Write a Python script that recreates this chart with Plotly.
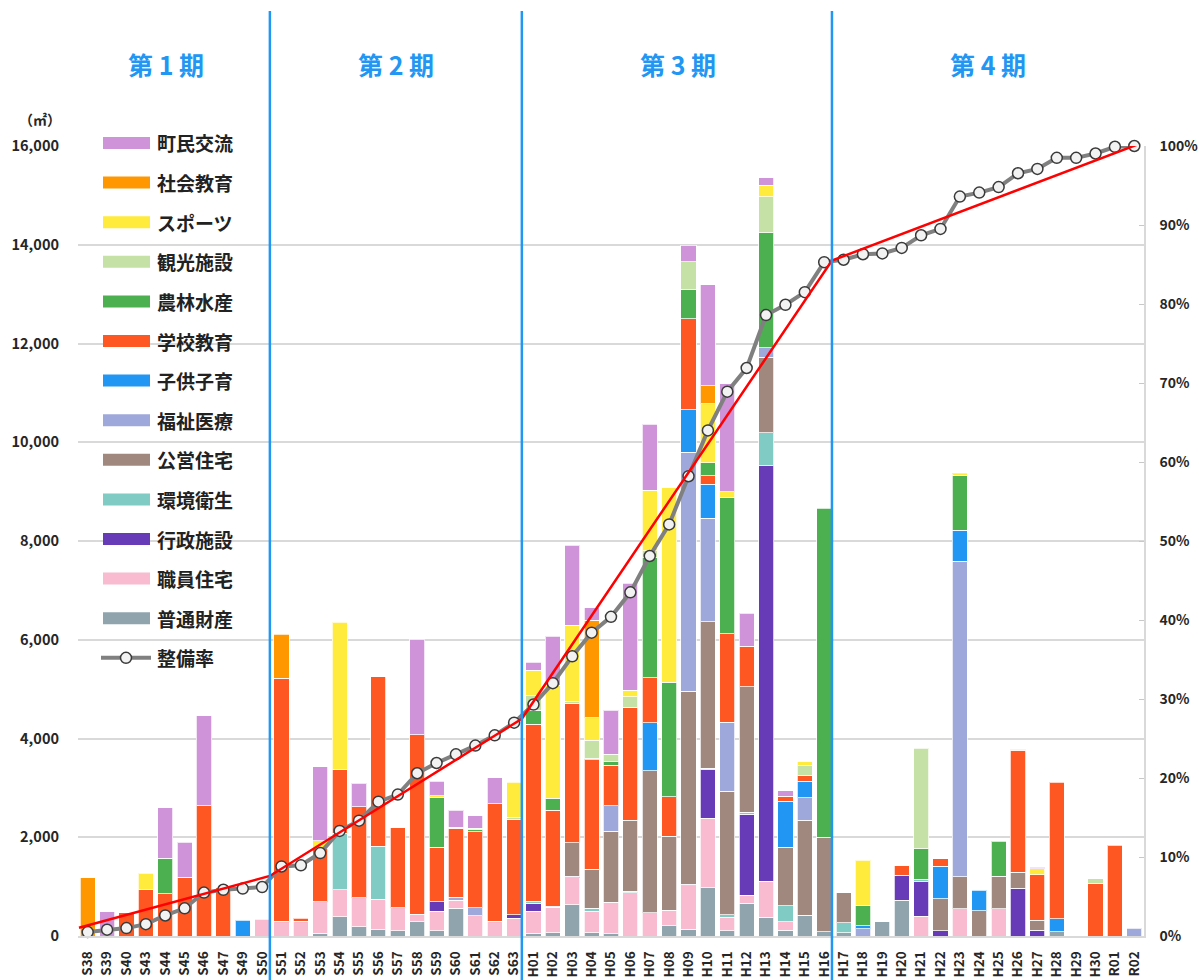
import plotly.graph_objects as go

# 年度（横軸）
years = [
    "S38", "S39", "S40", "S43", "S44", "S45", "S46", "S47", "S49", "S50",
    "S51", "S52", "S53", "S54", "S55", "S56", "S57", "S58", "S59", "S60", "S61", "S62", "S63",
    "H01", "H02", "H03", "H04", "H05", "H06", "H07", "H08", "H09", "H10", "H11", "H12", "H13", "H14", "H15", "H16",
    "H17", "H18", "H19", "H20", "H21", "H22", "H23", "H24", "H25", "H26", "H27", "H28", "H29", "H30", "R01", "R02",
]

# 用途別整備面積（㎡）
futsu_zaisan = [
    0, 0, 0, 0, 0, 0, 0, 0, 0, 0,
    0, 0, 60, 395, 190, 130, 110, 290, 110, 565, 0, 0, 0,
    58, 70, 634, 64, 44, 0, 0, 210, 135, 976, 105, 668, 375, 120, 420, 83,
    68, 0, 285, 721, 0, 0, 0, 0, 0, 0, 0, 83, 0, 0, 0, 0,
]
shokuin_jutaku = [
    0, 0, 0, 0, 0, 0, 0, 0, 0, 340,
    300, 300, 630, 545, 580, 610, 460, 150, 395, 155, 415, 295, 360,
    447, 515, 542, 434, 637, 871, 473, 316, 886, 1412, 278, 158, 729, 165, 0, 0,
    0, 0, 0, 0, 405, 0, 556, 0, 556, 0, 0, 0, 0, 0, 0, 0,
]
gyosei_shisetsu = [
    0, 0, 0, 0, 0, 0, 0, 0, 0, 0,
    0, 0, 0, 0, 0, 0, 0, 0, 185, 0, 0, 0, 70,
    162, 20, 34, 0, 0, 0, 0, 0, 23, 983, 0, 1644, 8416, 0, 0, 0,
    0, 0, 0, 510, 691, 105, 0, 0, 0, 969, 113, 0, 0, 0, 0, 0,
]
kankyo_eisei = [
    0, 0, 0, 0, 0, 0, 0, 0, 0, 0,
    0, 0, 0, 1140, 0, 1080, 0, 0, 0, 0, 0, 0, 0,
    33, 0, 0, 68, 0, 34, 0, 0, 0, 30, 52, 38, 676, 323, 0, 0,
    202, 0, 0, 0, 53, 0, 0, 0, 0, 0, 0, 0, 0, 0, 0, 0,
]
koei_jutaku = [
    0, 0, 0, 0, 0, 0, 0, 0, 0, 0,
    0, 0, 0, 0, 0, 0, 0, 0, 0, 0, 0, 0, 0,
    0, 0, 677, 787, 1444, 1437, 2876, 1494, 3911, 2966, 2501, 2537, 1527, 1186, 1922, 1914,
    601, 0, 0, 0, 0, 653, 645, 511, 653, 322, 202, 0, 0, 0, 0, 0,
]
fukushi_iryo = [
    0, 0, 0, 0, 0, 0, 0, 0, 0, 0,
    0, 0, 0, 0, 0, 0, 0, 0, 0, 65, 155, 0, 0,
    0, 0, 0, 0, 515, 0, 0, 0, 4843, 2094, 1389, 0, 189, 0, 458, 0,
    0, 143, 0, 0, 0, 0, 6389, 0, 0, 0, 0, 0, 0, 0, 0, 158,
]
kodomo_kosodate = [
    0, 0, 0, 0, 0, 0, 0, 0, 320, 0,
    0, 0, 0, 0, 0, 0, 0, 0, 0, 0, 0, 0, 0,
    0, 0, 0, 0, 0, 0, 968, 0, 863, 684, 0, 0, 0, 939, 338, 0,
    0, 60, 0, 0, 0, 654, 624, 412, 0, 0, 0, 270, 0, 0, 0, 0,
]
gakko_kyoiku = [
    0, 0, 470, 935, 860, 1190, 2640, 980, 0, 0,
    4920, 55, 1080, 1300, 1850, 3430, 1625, 3640, 1105, 1395, 1540, 2380, 1920,
    3586, 1940, 2819, 2216, 820, 2290, 909, 796, 1838, 172, 1794, 826, 0, 98, 105, 0,
    0, 0, 0, 196, 0, 157, 0, 0, 0, 2470, 924, 2763, 0, 1059, 1839, 0,
]
norin_suisan = [
    0, 0, 0, 0, 710, 0, 0, 0, 0, 0,
    0, 0, 0, 0, 0, 0, 0, 0, 1010, 0, 45, 0, 0,
    285, 245, 0, 34, 68, 0, 2447, 2320, 595, 263, 2771, 0, 2331, 0, 0, 6667,
    0, 420, 0, 0, 623, 0, 1118, 0, 706, 0, 0, 0, 0, 0, 0, 0,
]
kanko_shisetsu = [
    0, 0, 0, 0, 0, 0, 0, 0, 0, 0,
    0, 0, 0, 0, 0, 0, 0, 0, 0, 0, 0, 0, 60,
    300, 0, 48, 358, 149, 210, 128, 0, 561, 0, 0, 0, 730, 0, 203, 0,
    0, 0, 0, 0, 2027, 0, 0, 0, 0, 23, 0, 0, 0, 105, 0, 0,
]
sports = [
    0, 0, 0, 340, 0, 0, 0, 0, 0, 0,
    0, 0, 160, 2975, 0, 0, 0, 0, 35, 20, 25, 0, 700,
    508, 2285, 1539, 461, 0, 136, 1231, 3941, 0, 1197, 112, 0, 230, 0, 83, 0,
    0, 909, 0, 0, 0, 0, 30, 0, 0, 0, 120, 0, 0, 0, 0, 0,
]
shakai_kyoiku = [
    1180, 0, 0, 0, 0, 0, 0, 0, 0, 0,
    895, 0, 0, 0, 0, 0, 0, 0, 0, 0, 0, 0, 0,
    0, 0, 0, 1972, 0, 0, 0, 0, 0, 372, 0, 0, 0, 0, 0, 0,
    0, 0, 0, 0, 0, 0, 0, 0, 0, 0, 0, 0, 0, 0, 0, 0,
]
chomin_koryu = [
    0, 490, 0, 0, 1030, 710, 1820, 0, 0, 0,
    0, 0, 1500, 0, 475, 0, 0, 1930, 290, 345, 255, 530, 0,
    170, 1000, 1626, 258, 893, 2168, 1337, 0, 338, 2040, 2180, 661, 155, 112, 0, 0,
    0, 0, 0, 0, 0, 0, 23, 0, 0, 0, 30, 0, 0, 0, 0, 0,
]

# 整備率（%）
seibi_ritsu = [
    0.5, 0.8, 1.0, 1.5, 2.6, 3.5, 5.5, 5.85, 6.0, 6.2,
    8.8, 8.95, 10.5, 13.3, 14.6, 17.0, 17.9, 20.6, 21.9, 23.0, 24.1, 25.4, 27.0,
    29.3, 32.0, 35.4, 38.4, 40.4, 43.5, 48.1, 52.1, 58.2, 64.0, 68.9, 71.9, 78.6, 79.9, 81.5, 85.3,
    85.6, 86.3, 86.4, 87.1, 88.7, 89.5, 93.6, 94.1, 94.8, 96.55, 97.1, 98.5, 98.5, 99.05, 99.9, 100.0,
]

# 期ごとの整備率の推移（期の境界での値, %）
trend_x = [-0.45, 9.4, 22.4, 38.4, 54.5]
trend_pct = [1.05, 7.6, 27.5, 85.5, 100.5]

# 右軸目盛（%）
pct_ticks = [0, 10, 20, 30, 40, 50, 60, 70, 80, 90, 100]
pct_labels = ["0%", "10%", "20%", "30%", "40%", "50%", "60%", "70%", "80%", "90%", "100%"]

period_labels = ["第 1 期", "第 2 期", "第 3 期", "第 4 期"]
period_centers = [4.05, 15.9, 30.45, 46.45]
period_bounds = [9.4, 22.4, 38.4]

# 凡例の上から順（積み上げは下から逆順）
series = [
    ("町民交流", chomin_koryu, "#CE93D8"),
    ("社会教育", shakai_kyoiku, "#FF9800"),
    ("スポーツ", sports, "#FFEB3B"),
    ("観光施設", kanko_shisetsu, "#C5E1A5"),
    ("農林水産", norin_suisan, "#4CAF50"),
    ("学校教育", gakko_kyoiku, "#FF5722"),
    ("子供子育", kodomo_kosodate, "#2196F3"),
    ("福祉医療", fukushi_iryo, "#9FA8DA"),
    ("公営住宅", koei_jutaku, "#A1887F"),
    ("環境衛生", kankyo_eisei, "#80CBC4"),
    ("行政施設", gyosei_shisetsu, "#673AB7"),
    ("職員住宅", shokuin_jutaku, "#F8BBD0"),
    ("普通財産", futsu_zaisan, "#90A4AE"),
]

FONT = "Noto Sans CJK JP"
BLUE = "#2196F3"
xs = list(range(len(years)))

fig = go.Figure()

for name, vals, color in reversed(series):
    fig.add_trace(go.Bar(
        x=xs, y=[v if v else None for v in vals], name=name,
        marker=dict(color=color, line=dict(color="rgba(255,255,255,0.75)", width=1)),
        width=0.78, showlegend=False,
    ))

fig.add_trace(go.Scatter(
    x=xs, y=seibi_ritsu, yaxis="y2", mode="lines+markers", name="整備率",
    line=dict(color="#808080", width=4),
    marker=dict(size=11, color="#F2F2F2", line=dict(color="#3A3A3A", width=1.5)),
    showlegend=False, cliponaxis=False,
))

fig.add_trace(go.Scatter(
    x=trend_x, y=trend_pct, yaxis="y2", mode="lines",
    line=dict(color="#FF0000", width=2.5), showlegend=False, hoverinfo="skip",
    cliponaxis=False,
))

# plot area in pixels
L, T, W, H = 78, 146, 1066, 790


def px(xp):
    return (xp - L) / W


def py(yp):
    return (T + H - yp) / H


shapes = []
annotations = []

for b in period_bounds:
    shapes.append(dict(type="line", xref="x", yref="paper", x0=b, x1=b,
                       y0=-0.06, y1=py(11), line=dict(color=BLUE, width=2.5)))

for label, cx in zip(period_labels, period_centers):
    annotations.append(dict(x=cx, y=py(64), xref="x", yref="paper", text=label,
                            showarrow=False, xanchor="center", yanchor="middle",
                            font=dict(family=FONT, size=25, color=BLUE, weight="bold")))

annotations.append(dict(x=px(40), y=py(119), xref="paper", yref="paper", text="（㎡）",
                        showarrow=False, xanchor="center", yanchor="middle",
                        font=dict(family=FONT, size=14, color="#262626", weight="bold")))

# legend block
row0, step = 143.0, 39.6
for k, (name, _, color) in enumerate(series):
    yc = row0 + step * k
    shapes.append(dict(type="rect", xref="paper", yref="paper",
                       x0=px(103), x1=px(150), y0=py(yc + 6), y1=py(yc - 6),
                       fillcolor=color, line=dict(width=0)))
    annotations.append(dict(x=px(155), y=py(yc), xref="paper", yref="paper", text=name,
                            showarrow=False, xanchor="left", yanchor="middle",
                            font=dict(family=FONT, size=19, color="#222222", weight="bold")))

yc = row0 + step * len(series)
shapes.append(dict(type="line", xref="paper", yref="paper", x0=px(101), x1=px(151),
                   y0=py(yc), y1=py(yc), line=dict(color="#808080", width=4)))
shapes.append(dict(type="circle", xref="paper", yref="paper", xsizemode="pixel", ysizemode="pixel",
                   xanchor=px(126), yanchor=py(yc), x0=-5.5, x1=5.5, y0=-5.5, y1=5.5,
                   fillcolor="#F2F2F2", line=dict(color="#3A3A3A", width=1.5)))
annotations.append(dict(x=px(155), y=py(yc), xref="paper", yref="paper", text="整備率",
                        showarrow=False, xanchor="left", yanchor="middle",
                        font=dict(family=FONT, size=19, color="#222222", weight="bold")))

left_tickfont = dict(family=FONT, size=14.5, color="#262626", weight="bold")
right_tickfont = dict(family=FONT, size=14, color="#262626", weight="bold")

fig.update_layout(
    width=1199, height=980,
    margin=dict(l=L, r=1199 - L - W, t=T, b=980 - T - H, autoexpand=False),
    paper_bgcolor="white", plot_bgcolor="white",
    barmode="stack", bargap=0.22,
    xaxis=dict(
        range=[-0.5, len(years) - 0.5], tickmode="array", tickvals=xs, ticktext=years,
        tickangle=-90, tickfont=dict(family=FONT, size=13.5, color="#262626", weight="bold"),
        showgrid=False, zeroline=False, showline=True, linecolor="#D9D9D9", linewidth=2,
        ticks="", ticklabelstandoff=8, fixedrange=True,
    ),
    yaxis=dict(
        range=[0, 16000], tickmode="array", tickvals=list(range(0, 16001, 2000)),
        tickformat=",d", tickfont=left_tickfont, showgrid=True, gridcolor="#D9D9D9", gridwidth=2,
        zeroline=False, showline=False, ticks="", ticklabelstandoff=18,
    ),
    yaxis2=dict(
        range=[0, 100], overlaying="y", side="right", tickmode="array",
        tickvals=pct_ticks, ticktext=pct_labels, tickfont=right_tickfont,
        showgrid=False, zeroline=False, showline=True, linecolor="#D9D9D9", linewidth=1.5,
        ticks="inside", ticklen=5, tickcolor="#C8C8C8", tickwidth=1, ticklabelstandoff=11,
    ),
    shapes=shapes,
    annotations=annotations,
    showlegend=False,
)

fig.write_html("out.html")
